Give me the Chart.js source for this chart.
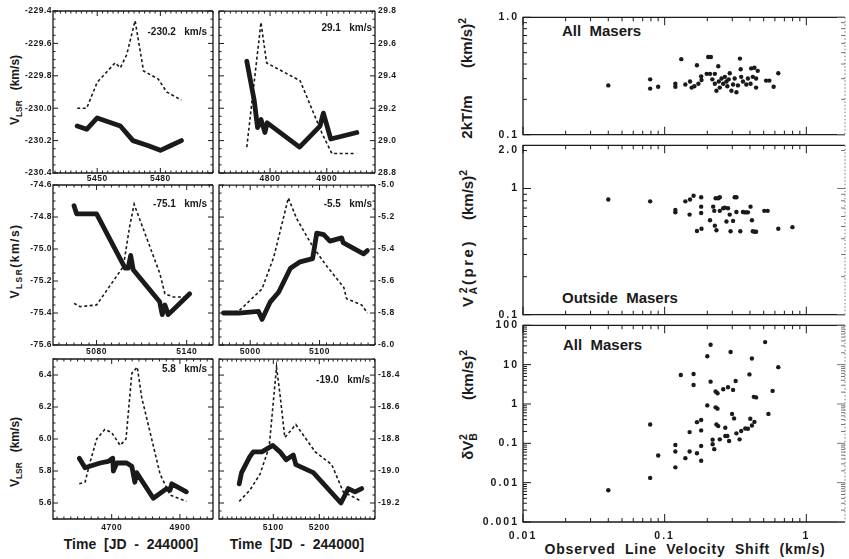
<!DOCTYPE html>
<html>
<head>
<meta charset="utf-8">
<script src="https://cdn.jsdelivr.net/npm/chart.js@4.4.0/dist/chart.umd.min.js"></script>
<style>
  html, body { margin: 0; padding: 0; background: #fff; }
  #fig { position: relative; width: 849px; height: 559px; overflow: hidden;
         font-family: 'Liberation Sans', Arial, sans-serif; color: #1a1a1a; }
  #fig canvas { position: absolute; }
  .txt { position: absolute; font-weight: bold; white-space: pre; line-height: 1; }
  .rot { transform: translate(-50%, -50%) rotate(-90deg); }
  .ctr { transform: translateX(-50%); }
  sub, sup { font-size: 70%; line-height: 0; }
</style>
</head>
<body>
<div id="fig">
  <div class="txt rot" style="left:15px;top:90px;font-size:12px;">V<sub>LSR</sub>   (km/s)</div>
  <div class="txt rot" style="left:15px;top:261px;font-size:12px;letter-spacing:1.5px;">V<sub>LSR</sub>(km/s)</div>
  <div class="txt rot" style="left:15px;top:452px;font-size:12px;">V<sub>LSR</sub>   (km/s)</div>
  <div class="txt ctr" style="left:131px;top:537px;font-size:14px;">Time  [JD  -  244000]</div>
  <div class="txt ctr" style="left:297px;top:537px;font-size:14px;">Time  [JD  -  244000]</div>

  <div class="txt rot" style="left:466px;top:117px;font-size:15px;">2kT/m</div>
  <div class="txt rot" style="left:466px;top:43px;font-size:15px;">(km/s)<sup>2</sup></div>
  <div class="txt rot" style="left:467px;top:273px;font-size:15px;letter-spacing:2.5px;">V<sub>A</sub><sup style="margin-left:-9px">2</sup>(pre)</div>
  <div class="txt rot" style="left:467px;top:195px;font-size:15px;">(km/s)<sup>2</sup></div>
  <div class="txt rot" style="left:467px;top:447px;font-size:15px;">&delta;V<sub>B</sub><sup style="margin-left:-7px">2</sup></div>
  <div class="txt rot" style="left:467px;top:375px;font-size:15px;">(km/s)<sup>2</sup></div>
  <div class="txt" style="left:562px;top:23px;font-size:15px;">All  Masers</div>
  <div class="txt" style="left:562px;top:290px;font-size:15px;">Outside  Masers</div>
  <div class="txt" style="left:563px;top:337px;font-size:15px;">All  Masers</div>
  <div class="txt ctr" style="left:685px;top:542px;font-size:14px;letter-spacing:0.8px;">Observed  Line  Velocity  Shift  (km/s)</div>
</div>
<script>
// ---- left: six maser features, V_LSR vs time (JD - 244000) ----
const componentVelocity = ['-230.2', '29.1', '-75.1', '-5.5', '5.8', '-19.0'];

const vel1T = [5440.5, 5445, 5450, 5461, 5467, 5474, 5480, 5485, 5490];
const vel1V = [-230.11, -230.13, -230.06, -230.11, -230.20, -230.23, -230.26, -230.23, -230.20];
const flux1T = [5440.5, 5445, 5450, 5458.5, 5461, 5464, 5468, 5472, 5479, 5483, 5490];
const flux1V = [-230.00, -230.00, -229.84, -229.72, -229.75, -229.67, -229.46, -229.77, -229.82, -229.90, -229.95];
const p1XLabels = [5450, 5480];
const p1YLabels = [-230.4, -230.2, -230.0, -229.8, -229.6, -229.4];

const vel2T = [4759, 4772, 4778, 4784, 4791, 4795, 4852, 4888, 4894, 4907, 4953];
const vel2V = [29.49, 29.25, 29.08, 29.13, 29.05, 29.11, 28.96, 29.09, 29.17, 29.01, 29.05];
const flux2T = [4759, 4784, 4794, 4853, 4891, 4909, 4952];
const flux2V = [28.96, 29.73, 29.48, 29.37, 29.05, 28.92, 28.92];
const p2XLabels = [4800, 4900];
const p2YLabels = [28.8, 29.0, 29.2, 29.4, 29.6, 29.8];

const vel3T = [5065, 5066.7, 5080, 5099, 5101, 5102.7, 5104.4, 5122, 5123.7, 5125.5, 5127.7, 5142];
const vel3V = [-74.73, -74.78, -74.78, -75.12, -75.12, -75.04, -75.13, -75.33, -75.41, -75.35, -75.41, -75.28];
const flux3T = [5065, 5069, 5080, 5097.8, 5102, 5105, 5122, 5125.5, 5131, 5141];
const flux3V = [-75.34, -75.36, -75.35, -75.11, -74.86, -74.72, -75.15, -75.28, -75.30, -75.30];
const p3XLabels = [5080, 5140];
const p3YLabels = [-75.6, -75.4, -75.2, -75.0, -74.8, -74.6];

const vel4T = [4961.5, 4983, 5012, 5017, 5029, 5041, 5058, 5072, 5090, 5096, 5106, 5115, 5132, 5134, 5163.5, 5169];
const vel4V = [-5.80, -5.80, -5.79, -5.84, -5.73, -5.67, -5.52, -5.48, -5.46, -5.30, -5.31, -5.35, -5.33, -5.36, -5.43, -5.41];
const flux4T = [4961.5, 4983, 5017, 5034, 5055, 5067, 5091, 5111, 5135, 5139, 5161, 5169];
const flux4V = [-5.80, -5.79, -5.65, -5.45, -5.08, -5.21, -5.39, -5.51, -5.64, -5.71, -5.75, -5.80];
const p4XLabels = [5000, 5100];
const p4YLabels = [-6.0, -5.8, -5.6, -5.4, -5.2, -5.0];

const vel5T = [4605, 4622, 4666, 4690, 4703, 4705, 4715, 4744, 4759, 4768, 4773, 4822, 4861, 4871, 4876, 4919];
const vel5V = [5.88, 5.82, 5.85, 5.86, 5.88, 5.80, 5.85, 5.85, 5.83, 5.73, 5.79, 5.63, 5.69, 5.68, 5.72, 5.67];
const flux5T = [4605, 4622, 4636, 4656, 4680, 4700, 4725, 4742, 4759, 4775, 4788, 4842, 4871, 4919];
const flux5V = [5.72, 5.73, 5.85, 6.00, 6.06, 6.04, 5.96, 6.00, 6.41, 6.45, 6.26, 5.78, 5.65, 5.61];
const p5XLabels = [4700, 4900];
const p5YLabels = [5.6, 5.8, 6.0, 6.2, 6.4];

const vel6T = [5026, 5031, 5049, 5056.5, 5075, 5099, 5114.5, 5128, 5143.5, 5149, 5187, 5247, 5263, 5277.5, 5292];
const vel6V = [-19.08, -19.01, -18.91, -18.88, -18.88, -18.84, -18.88, -18.93, -18.90, -18.96, -19.01, -19.20, -19.11, -19.13, -19.11];
const flux6T = [5026, 5049, 5071, 5091, 5107, 5114.5, 5125, 5149, 5191, 5227, 5252, 5292];
const flux6V = [-19.19, -19.12, -19.02, -18.85, -18.35, -18.52, -18.79, -18.71, -18.88, -18.96, -19.13, -19.19];
const p6XLabels = [5100, 5200];
const p6YLabels = [-19.2, -19.0, -18.8, -18.6, -18.4];

// ---- right: quantities vs observed line velocity shift (km/s) ----
const topShift = [0.040, 0.079, 0.079, 0.090, 0.119, 0.119, 0.131, 0.140, 0.151, 0.155, 0.162, 0.169, 0.173, 0.181, 0.182, 0.198, 0.203, 0.209, 0.212, 0.217, 0.226, 0.226, 0.232, 0.239, 0.241, 0.245, 0.252, 0.259, 0.266, 0.273, 0.277, 0.283, 0.288, 0.296, 0.304, 0.312, 0.321, 0.329, 0.340, 0.344, 0.347, 0.357, 0.377, 0.387, 0.404, 0.408, 0.419, 0.430, 0.442, 0.442, 0.454, 0.520, 0.548, 0.588, 0.634];
const topKT = [0.263, 0.296, 0.247, 0.256, 0.272, 0.256, 0.440, 0.268, 0.284, 0.252, 0.259, 0.390, 0.272, 0.314, 0.292, 0.330, 0.459, 0.330, 0.459, 0.296, 0.330, 0.272, 0.237, 0.383, 0.284, 0.252, 0.301, 0.272, 0.311, 0.284, 0.259, 0.296, 0.334, 0.237, 0.268, 0.301, 0.230, 0.263, 0.445, 0.361, 0.311, 0.284, 0.268, 0.301, 0.272, 0.367, 0.311, 0.372, 0.252, 0.301, 0.350, 0.289, 0.289, 0.256, 0.334];

const midShift = [0.040, 0.079, 0.119, 0.119, 0.140, 0.150, 0.151, 0.160, 0.169, 0.181, 0.181, 0.181, 0.182, 0.209, 0.220, 0.224, 0.226, 0.229, 0.232, 0.239, 0.245, 0.245, 0.259, 0.266, 0.273, 0.280, 0.288, 0.292, 0.304, 0.312, 0.321, 0.321, 0.342, 0.357, 0.366, 0.377, 0.387, 0.404, 0.413, 0.419, 0.430, 0.442, 0.505, 0.533, 0.634, 0.798];
const midVA2 = [0.819, 0.791, 0.677, 0.647, 0.791, 0.621, 0.819, 0.877, 0.461, 0.852, 0.718, 0.640, 0.480, 0.561, 0.718, 0.665, 0.508, 0.837, 0.467, 0.837, 0.852, 0.665, 0.697, 0.705, 0.548, 0.697, 0.621, 0.459, 0.554, 0.852, 0.852, 0.651, 0.459, 0.651, 0.647, 0.647, 0.647, 0.718, 0.561, 0.459, 0.454, 0.454, 0.665, 0.665, 0.480, 0.494];

const botShift = [0.040, 0.079, 0.079, 0.090, 0.119, 0.119, 0.119, 0.130, 0.140, 0.150, 0.150, 0.160, 0.160, 0.169, 0.169, 0.181, 0.181, 0.181, 0.181, 0.200, 0.200, 0.211, 0.211, 0.218, 0.218, 0.224, 0.229, 0.229, 0.236, 0.236, 0.232, 0.239, 0.245, 0.259, 0.268, 0.268, 0.277, 0.280, 0.285, 0.292, 0.304, 0.299, 0.309, 0.317, 0.321, 0.338, 0.347, 0.371, 0.387, 0.397, 0.402, 0.413, 0.413, 0.426, 0.442, 0.430, 0.512, 0.540, 0.578, 0.634];
const botDVB2 = [0.0064, 0.30, 0.0132, 0.049, 0.091, 0.062, 0.0245, 5.44, 0.042, 0.193, 0.062, 5.76, 3.05, 0.345, 0.056, 0.39, 0.213, 0.086, 0.036, 0.92, 16.3, 32.0, 3.70, 0.124, 0.095, 0.071, 2.07, 0.82, 1.88, 0.76, 0.30, 0.274, 0.126, 2.37, 0.248, 0.153, 0.153, 2.66, 0.115, 21.0, 2.28, 0.56, 0.43, 3.84, 0.179, 0.126, 0.205, 0.239, 0.234, 5.65, 0.42, 14.3, 0.284, 1.52, 1.47, 0.35, 37.4, 0.56, 2.15, 8.64];

const shiftLabelVals = [0.01, 0.1, 1];
const shiftLabelText = ['0.01', '0.1', '1'];
const topYLabelVals = [0.1, 1];
const topYLabelText = ['0.1', '1.0'];
const midYLabelVals = [0.1, 1, 2];
const midYLabelText = ['0.1', '1', '2.0'];
const botYLabelVals = [0.001, 0.01, 0.1, 1, 10, 100];
const botYLabelText = ['0.001', '0.01', '0.1', '1', '10', '100'];

const INK = '#1a1a1a';
Chart.defaults.font.family = "'Liberation Sans', Arial, sans-serif";
Chart.defaults.color = INK;

const fig = document.getElementById('fig');

// boxed frame with inward ticks on all four sides, taken from the scales' own ticks
const frameTicks = {
    id: 'frameTicks',
    beforeLayout(chart, args, opts) { chart.ctx.letterSpacing = opts.spacing || '0px'; },
    beforeDraw(chart, args, opts) { chart.ctx.letterSpacing = opts.spacing || '0px'; },
    afterDraw(chart, args, opts) {
        const { ctx, chartArea: a } = chart;
        ctx.save();
        ctx.strokeStyle = INK;
        ctx.lineWidth = 1.3;
        ctx.beginPath();
        ctx.moveTo(a.right, a.top); ctx.lineTo(a.left, a.top);
        ctx.lineTo(a.left, a.bottom); ctx.lineTo(a.right, a.bottom);
        ctx.stroke();
        ctx.beginPath();
        if (opts.faintRight) { ctx.strokeStyle = '#999'; ctx.setLineDash([1.5, 2]); }
        ctx.moveTo(a.right, a.top); ctx.lineTo(a.right, a.bottom);
        ctx.stroke();
        ctx.setLineDash([]);
        ctx.lineWidth = 1;
        Object.values(chart.scales).forEach(s => {
            s.ticks.forEach(t => {
                const p = s.getPixelForValue(t.value);
                const l = t.major ? opts.len[0] : opts.len[1];
                ctx.beginPath();
                if (s.isHorizontal()) {
                    ctx.strokeStyle = INK;
                    ctx.moveTo(p, a.bottom); ctx.lineTo(p, a.bottom - l);
                    ctx.moveTo(p, a.top); ctx.lineTo(p, a.top + l);
                    ctx.stroke();
                } else {
                    ctx.strokeStyle = INK;
                    ctx.moveTo(a.left, p); ctx.lineTo(a.left + l, p);
                    ctx.stroke();
                    ctx.beginPath();
                    if (opts.faintRight) ctx.strokeStyle = '#777';
                    ctx.moveTo(a.right, p); ctx.lineTo(a.right - l, p);
                    ctx.stroke();
                }
            });
        });
        ctx.restore();
    }
};

function linearTicks(lo, hi, step, labels) {
    const out = [];
    for (let k = Math.ceil(lo / step - 1e-6); k * step <= hi + 1e-6; k++) {
        const v = +(k * step).toFixed(6);
        out.push({ value: v, major: labels.some(l => Math.abs(l - v) < 1e-6) });
    }
    return out;
}

function logTicks(lo, hi) {
    const out = [];
    for (let e = Math.floor(Math.log10(lo)); e <= Math.ceil(Math.log10(hi)); e++) {
        for (let m = 1; m <= 9; m++) {
            const v = +(m * Math.pow(10, e)).toPrecision(3);
            if (v >= lo * 0.999 && v <= hi * 1.001) out.push({ value: v, major: m === 1 });
        }
    }
    return out;
}

function labelFrom(vals, texts) {
    return v => {
        const k = vals.findIndex(l => Math.abs(l - v) < 1e-6 * Math.max(1, Math.abs(l)));
        return k >= 0 ? texts[k] : '';
    };
}

function addCanvas(box, m) {
    const c = document.createElement('canvas');
    const w = box[2] - box[0] + m.l + m.r;
    const h = box[3] - box[1] + m.t + m.b;
    c.width = w; c.height = h;
    c.style.left = (box[0] - m.l) + 'px';
    c.style.top = (box[1] - m.t) + 'px';
    c.style.width = w + 'px';
    c.style.height = h + 'px';
    fig.appendChild(c);
    return c;
}

const TICK_FONT = { size: 8.5, weight: 'bold' };

function timePanel(p) {
    const left = p.side === 'left';
    const m = { l: 53, r: left ? 3 : 42, t: 8, b: p.xPad + 12 };
    if (!left) m.l = 3;
    const cv = addCanvas(p.box, m);
    const pts = (ts, vs) => ts.map((t, i) => ({ x: t, y: vs[i] }));
    new Chart(cv, {
        type: 'line',
        data: {
            datasets: [{
                data: pts(p.solidT, p.solidV),
                borderColor: INK, borderWidth: 4.8, pointRadius: 0,
                borderJoinStyle: 'round', borderCapStyle: 'round'
            }, {
                data: pts(p.dashT, p.dashV),
                borderColor: INK, borderWidth: 1.6, borderDash: [3, 2.5], pointRadius: 0
            }]
        },
        options: {
            responsive: false, animation: false, events: [],
            layout: { padding: { left: left ? 0 : m.l, right: left ? m.r : 0, top: m.t, bottom: 0 } },
            plugins: {
                legend: { display: false }, tooltip: { enabled: false },
                frameTicks: { len: [5, 2.5], spacing: '0.5px' }
            },
            scales: {
                x: {
                    type: 'linear', min: p.xLim[0], max: p.xLim[1],
                    grid: { display: false, drawTicks: false }, border: { display: false },
                    ticks: {
                        autoSkip: false, maxRotation: 0, padding: p.xPad, font: TICK_FONT,
                        callback: v => p.xLabels.some(l => Math.abs(l - v) < 1e-6) ? String(v) : ''
                    },
                    afterBuildTicks: s => { s.ticks = linearTicks(p.xLim[0], p.xLim[1], p.xStep, p.xLabels); },
                    afterFit: s => { s.height = m.b; }
                },
                y: {
                    type: 'linear', position: p.side, min: p.yLim[0], max: p.yLim[1],
                    grid: { display: false, drawTicks: false }, border: { display: false },
                    ticks: {
                        autoSkip: false, padding: left ? 1 : 3, font: TICK_FONT,
                        callback: v => p.yLabels.some(l => Math.abs(l - v) < 1e-6) ? v.toFixed(1) : ''
                    },
                    afterBuildTicks: s => { s.ticks = linearTicks(p.yLim[0], p.yLim[1], 0.05, p.yLabels); },
                    afterFit: s => { s.width = left ? m.l : m.r; }
                }
            }
        },
        plugins: [frameTicks]
    });

    const note = document.createElement('div');
    note.className = 'txt';
    note.style.fontSize = '10px';
    note.style.right = (849 - p.noteAt[0]) + 'px';
    note.style.top = (p.noteAt[1] - 5) + 'px';
    note.textContent = p.note + '   km/s';
    fig.appendChild(note);
}

function shiftPanel(p) {
    const m = { l: 45, r: 1, t: 8, b: p.showX ? 24 : 2 };
    const cv = addCanvas(p.box, m);
    new Chart(cv, {
        type: 'scatter',
        data: {
            datasets: [{
                data: p.xs.map((x, i) => ({ x: x, y: p.ys[i] })),
                pointRadius: 2.2, backgroundColor: INK, borderWidth: 0
            }]
        },
        options: {
            responsive: false, animation: false, events: [],
            layout: { padding: { left: 0, right: m.r, top: m.t, bottom: p.showX ? 0 : m.b } },
            plugins: {
                legend: { display: false }, tooltip: { enabled: false },
                frameTicks: { len: [8, 4], spacing: '2px', faintRight: true }
            },
            scales: {
                x: {
                    type: 'logarithmic', min: 0.01, max: 1.875,
                    grid: { display: false, drawTicks: false }, border: { display: false },
                    ticks: {
                        autoSkip: false, maxRotation: 0, padding: 8, font: { size: 10.5, weight: 'bold' },
                        callback: p.showX ? labelFrom(shiftLabelVals, shiftLabelText) : () => ''
                    },
                    afterBuildTicks: s => { s.ticks = logTicks(0.01, 1.875); },
                    afterFit: s => { s.height = p.showX ? m.b : 0; }
                },
                y: {
                    type: 'logarithmic', min: p.yLim[0], max: p.yLim[1],
                    grid: { display: false, drawTicks: false }, border: { display: false },
                    ticks: {
                        autoSkip: false, padding: 4, font: { size: 10.5, weight: 'bold' },
                        callback: labelFrom(p.yVals, p.yText)
                    },
                    afterBuildTicks: s => { s.ticks = logTicks(p.yLim[0], p.yLim[1]); },
                    afterFit: s => { s.width = m.l; }
                }
            }
        },
        plugins: [frameTicks]
    });
}

const timePanels = [
    { solidT: vel1T, solidV: vel1V, dashT: flux1T, dashV: flux1V, xLabels: p1XLabels, yLabels: p1YLabels,
      xLim: [5429, 5505], xStep: 2.5, yLim: [-230.4, -229.4], box: [53, 11, 213, 173], side: 'left', xPad: 1,
      note: componentVelocity[0], noteAt: [207, 32] },
    { solidT: vel2T, solidV: vel2V, dashT: flux2T, dashV: flux2V, xLabels: p2XLabels, yLabels: p2YLabels,
      xLim: [4710, 4985], xStep: 10, yLim: [28.8, 29.8], box: [219, 11, 375, 173], side: 'right', xPad: 1,
      note: componentVelocity[1], noteAt: [372, 28] },
    { solidT: vel3T, solidV: vel3V, dashT: flux3T, dashV: flux3V, xLabels: p3XLabels, yLabels: p3YLabels,
      xLim: [5051, 5157.5], xStep: 5, yLim: [-75.6, -74.6], box: [53, 185, 213, 345], side: 'left', xPad: 2,
      note: componentVelocity[2], noteAt: [207, 204] },
    { solidT: vel4T, solidV: vel4V, dashT: flux4T, dashV: flux4V, xLabels: p4XLabels, yLabels: p4YLabels,
      xLim: [4955, 5180], xStep: 10, yLim: [-6.0, -5.0], box: [219, 185, 375, 345], side: 'right', xPad: 2,
      note: componentVelocity[3], noteAt: [372, 204] },
    { solidT: vel5T, solidV: vel5V, dashT: flux5T, dashV: flux5V, xLabels: p5XLabels, yLabels: p5YLabels,
      xLim: [4528, 4997], xStep: 20, yLim: [5.5, 6.5], box: [53, 359, 213, 519], side: 'left', xPad: 4,
      note: componentVelocity[4], noteAt: [207, 369] },
    { solidT: vel6T, solidV: vel6V, dashT: flux6T, dashV: flux6V, xLabels: p6XLabels, yLabels: p6YLabels,
      xLim: [4982, 5321], xStep: 10, yLim: [-19.3, -18.3], box: [219, 359, 375, 519], side: 'right', xPad: 4,
      note: componentVelocity[5], noteAt: [370, 380] }
];
timePanels.forEach(timePanel);

shiftPanel({ xs: topShift, ys: topKT, yLim: [0.1, 1.0], yVals: topYLabelVals, yText: topYLabelText,
             box: [523, 15, 848, 143], showX: false });
shiftPanel({ xs: midShift, ys: midVA2, yLim: [0.1, 2.2], yVals: midYLabelVals, yText: midYLabelText,
             box: [523, 143, 848, 323], showX: false });
shiftPanel({ xs: botShift, ys: botDVB2, yLim: [0.001, 100], yVals: botYLabelVals, yText: botYLabelText,
             box: [523, 323, 848, 522], showX: true });
</script>
</body>
</html>
